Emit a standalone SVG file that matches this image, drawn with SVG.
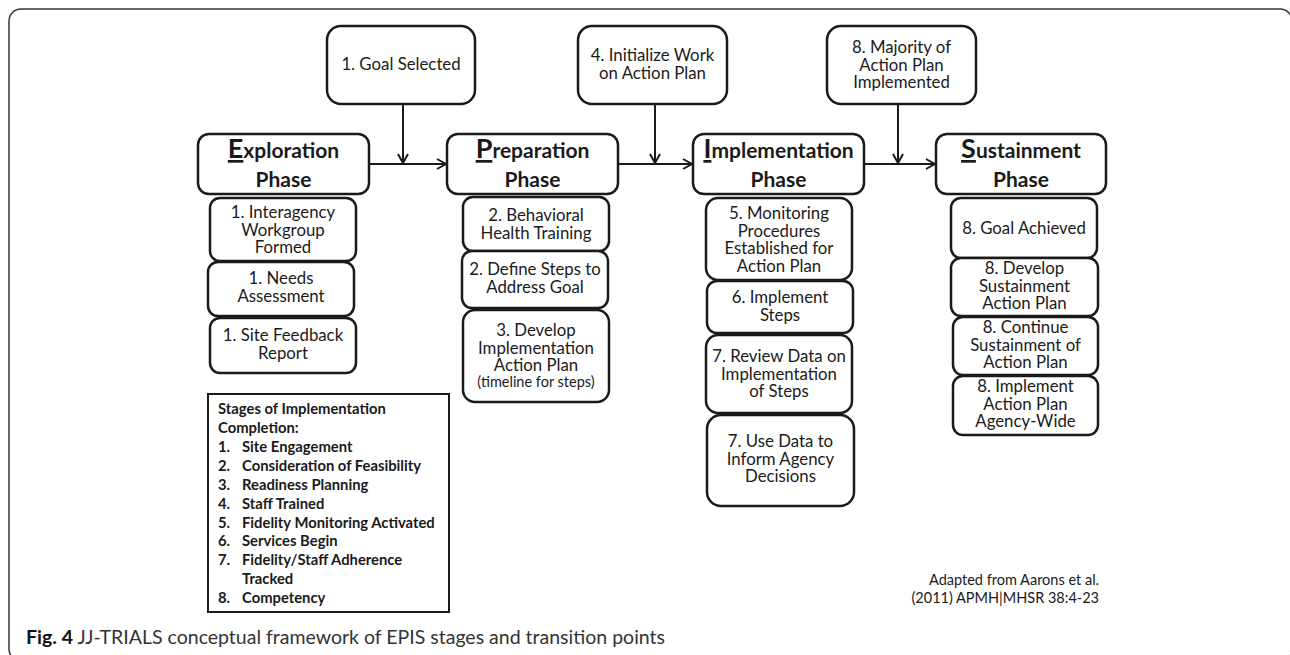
<svg xmlns="http://www.w3.org/2000/svg" width="1290" height="655" viewBox="0 0 1290 655">
<defs>
<style>
.box{fill:#fff;stroke:#1a1a1a;stroke-width:2.5}
.t{font-family:Lato,"Liberation Sans",sans-serif;font-size:16.8px;fill:#1a1a1a;text-anchor:middle}
.sm{font-size:14.5px}
.ph{font-family:Lato,"Liberation Sans",sans-serif;font-size:21px;font-weight:bold;fill:#1a1a1a;text-anchor:middle}
.big{font-size:27px}
.lg{font-family:Lato,"Liberation Sans",sans-serif;font-size:14.8px;font-weight:bold;fill:#1a1a1a}
.conn{stroke:#1a1a1a;stroke-width:2;fill:none}
</style>
<marker id="arr" markerWidth="12" markerHeight="12" refX="10" refY="6" orient="auto" markerUnits="userSpaceOnUse">
<path d="M1,1 L10,6 L1,11" fill="none" stroke="#1a1a1a" stroke-width="2"/>
</marker>
</defs>
<rect width="1290" height="655" fill="#fff"/>
<rect x="9" y="9" width="1283" height="652" rx="12" fill="none" stroke="#333" stroke-width="1.5"/>

<g id="connectors">
<line class="conn" x1="369" y1="164" x2="446" y2="164" marker-end="url(#arr)"/>
<line class="conn" x1="618" y1="164" x2="692" y2="164" marker-end="url(#arr)"/>
<line class="conn" x1="864" y1="164" x2="935" y2="164" marker-end="url(#arr)"/>
<line class="conn" x1="403" y1="104" x2="403" y2="163" marker-end="url(#arr)"/>
<line class="conn" x1="655" y1="104" x2="655" y2="163" marker-end="url(#arr)"/>
<line class="conn" x1="898" y1="104" x2="898" y2="163" marker-end="url(#arr)"/>
</g>

<g id="goal-selected">
<rect class="box" x="327" y="26" width="148" height="78" rx="14"/>
<text class="t" x="401" y="70">1. Goal Selected</text>
</g>
<g id="initialize-work">
<rect class="box" x="578" y="26" width="149" height="78" rx="14"/>
<text class="t" x="652.5" y="61">4. Initialize Work</text>
<text class="t" x="652.5" y="79">on Action Plan</text>
</g>
<g id="majority-implemented">
<rect class="box" x="827" y="26" width="149" height="78" rx="14"/>
<text class="t" x="901.5" y="53">8. Majority of</text>
<text class="t" x="901.5" y="70.5">Action Plan</text>
<text class="t" x="901.5" y="88">Implemented</text>
</g>

<g id="exploration-phase">
<rect class="box" x="198" y="134" width="171" height="60" rx="11"/>
<text class="ph" x="283.5" y="158"><tspan class="big" text-decoration="underline">E</tspan>xploration</text>
<text class="ph" x="283.5" y="187">Phase</text>
</g>
<g id="preparation-phase">
<rect class="box" x="447" y="134" width="171" height="60" rx="11"/>
<text class="ph" x="532.5" y="158"><tspan class="big" text-decoration="underline">P</tspan>reparation</text>
<text class="ph" x="532.5" y="187">Phase</text>
</g>
<g id="implementation-phase">
<rect class="box" x="693" y="134" width="171" height="60" rx="11"/>
<text class="ph" x="778.5" y="158"><tspan class="big" text-decoration="underline">I</tspan>mplementation</text>
<text class="ph" x="778.5" y="187">Phase</text>
</g>
<g id="sustainment-phase">
<rect class="box" x="936" y="134" width="170" height="60" rx="11"/>
<text class="ph" x="1021" y="158"><tspan class="big" text-decoration="underline">S</tspan>ustainment</text>
<text class="ph" x="1021" y="187">Phase</text>
</g>

<g id="interagency-workgroup">
<rect class="box" x="210" y="198" width="146" height="63" rx="10"/>
<text class="t" x="283" y="218">1. Interagency</text>
<text class="t" x="283" y="235.5">Workgroup</text>
<text class="t" x="283" y="253">Formed</text>
</g>
<g id="needs-assessment">
<rect class="box" x="208" y="262" width="146" height="54" rx="10"/>
<text class="t" x="281" y="284">1. Needs</text>
<text class="t" x="281" y="301.5">Assessment</text>
</g>
<g id="site-feedback">
<rect class="box" x="210" y="318" width="146" height="55" rx="10"/>
<text class="t" x="283" y="341">1. Site Feedback</text>
<text class="t" x="283" y="358.5">Report</text>
</g>

<g id="behavioral-health">
<rect class="box" x="463" y="197" width="146" height="54" rx="10"/>
<text class="t" x="536" y="221">2. Behavioral</text>
<text class="t" x="536" y="238.5">Health Training</text>
</g>
<g id="define-steps">
<rect class="box" x="462" y="251" width="146" height="57" rx="10"/>
<text class="t" x="535" y="275">2. Define Steps to</text>
<text class="t" x="535" y="292.5">Address Goal</text>
</g>
<g id="develop-plan">
<rect class="box" x="463" y="310" width="146" height="92" rx="12"/>
<text class="t" x="536" y="336">3. Develop</text>
<text class="t" x="536" y="353.5">Implementation</text>
<text class="t" x="536" y="371">Action Plan</text>
<text class="t sm" x="536" y="387">(timeline for steps)</text>
</g>

<g id="monitoring-procedures">
<rect class="box" x="706" y="198" width="146" height="82" rx="12"/>
<text class="t" x="779" y="219">5. Monitoring</text>
<text class="t" x="779" y="236.5">Procedures</text>
<text class="t" x="779" y="254">Established for</text>
<text class="t" x="779" y="271.5">Action Plan</text>
</g>
<g id="implement-steps">
<rect class="box" x="707" y="281" width="146" height="52" rx="10"/>
<text class="t" x="780" y="303">6. Implement</text>
<text class="t" x="780" y="320.5">Steps</text>
</g>
<g id="review-data">
<rect class="box" x="706" y="335" width="146" height="78" rx="12"/>
<text class="t" x="779" y="362">7. Review Data on</text>
<text class="t" x="779" y="379.5">Implementation</text>
<text class="t" x="779" y="397">of Steps</text>
</g>
<g id="use-data">
<rect class="box" x="707" y="415" width="147" height="91" rx="14"/>
<text class="t" x="780.5" y="447">7. Use Data to</text>
<text class="t" x="780.5" y="464.5">Inform Agency</text>
<text class="t" x="780.5" y="482">Decisions</text>
</g>

<g id="goal-achieved">
<rect class="box" x="951" y="198" width="146" height="60" rx="10"/>
<text class="t" x="1024" y="234">8. Goal Achieved</text>
</g>
<g id="develop-sustainment">
<rect class="box" x="951" y="258" width="147" height="58" rx="10"/>
<text class="t" x="1024.5" y="274">8. Develop</text>
<text class="t" x="1024.5" y="291.5">Sustainment</text>
<text class="t" x="1024.5" y="309">Action Plan</text>
</g>
<g id="continue-sustainment">
<rect class="box" x="953" y="317" width="145" height="58" rx="10"/>
<text class="t" x="1025.5" y="333">8. Continue</text>
<text class="t" x="1025.5" y="350.5">Sustainment of</text>
<text class="t" x="1025.5" y="368">Action Plan</text>
</g>
<g id="implement-agency-wide">
<rect class="box" x="953" y="376" width="145" height="59" rx="10"/>
<text class="t" x="1025.5" y="392">8. Implement</text>
<text class="t" x="1025.5" y="409.5">Action Plan</text>
<text class="t" x="1025.5" y="427">Agency-Wide</text>
</g>

<g id="legend">
<rect x="208" y="394" width="241" height="218" fill="#fff" stroke="#1a1a1a" stroke-width="2"/>
<text class="lg" x="218" y="414">Stages of Implementation</text>
<text class="lg" x="218" y="433">Completion:</text>
<text class="lg" x="218" y="452">1.</text><text class="lg" x="242" y="452">Site Engagement</text>
<text class="lg" x="218" y="471">2.</text><text class="lg" x="242" y="471">Consideration of Feasibility</text>
<text class="lg" x="218" y="490">3.</text><text class="lg" x="242" y="490">Readiness Planning</text>
<text class="lg" x="218" y="509">4.</text><text class="lg" x="242" y="509">Staff Trained</text>
<text class="lg" x="218" y="528">5.</text><text class="lg" x="242" y="528">Fidelity Monitoring Activated</text>
<text class="lg" x="218" y="546">6.</text><text class="lg" x="242" y="546">Services Begin</text>
<text class="lg" x="218" y="565">7.</text><text class="lg" x="242" y="565">Fidelity/Staff Adherence</text>
<text class="lg" x="242" y="584">Tracked</text>
<text class="lg" x="218" y="603">8.</text><text class="lg" x="242" y="603">Competency</text>
</g>

<g id="source">
<text font-family="Lato,'Liberation Sans',sans-serif" font-size="14.5" fill="#1a1a1a" text-anchor="end" x="1099" y="585">Adapted from Aarons et al.</text>
<text font-family="Lato,'Liberation Sans',sans-serif" font-size="14.5" fill="#1a1a1a" text-anchor="end" x="1099" y="603">(2011) APMH|MHSR 38:4-23</text>
</g>

<g id="caption">
<text font-family="Lato,'Liberation Sans',sans-serif" font-size="19.5" fill="#333" x="26" y="644"><tspan font-weight="bold" fill="#111">Fig. 4</tspan> JJ-TRIALS conceptual framework of EPIS stages and transition points</text>
</g>
</svg>
